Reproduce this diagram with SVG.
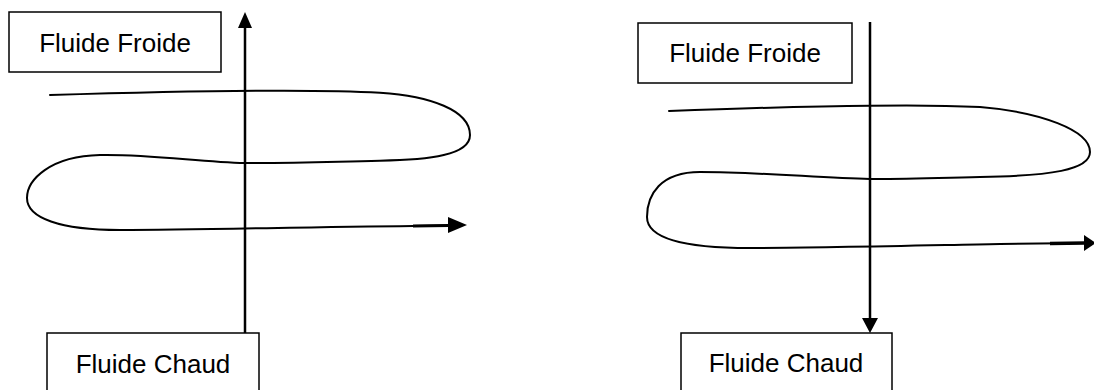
<svg xmlns="http://www.w3.org/2000/svg" width="1094" height="390" viewBox="0 0 1094 390">
  <style>
    .box { fill: #ffffff; stroke: #000000; stroke-width: 1.5; }
    .label { font-family: "Liberation Sans", Arial, sans-serif; font-size: 26px; fill: #000000; text-anchor: middle; }
    .axis { fill: none; stroke: #000000; stroke-width: 2.5; }
    .flow { fill: none; stroke: #000000; stroke-width: 2; stroke-linecap: round; }
    .head { fill: #000000; stroke: none; }
  </style>

  <!-- Left panel: co-current arrangement -->
  <g id="froide-left">
    <rect class="box" x="9" y="12" width="212" height="60"/>
    <text class="label" x="115" y="52">Fluide Froide</text>
  </g>
  <g id="chaud-left">
    <rect class="box" x="47" y="333" width="212" height="70"/>
    <text class="label" x="153" y="373">Fluide Chaud</text>
  </g>

  <!-- Right panel: counter-current arrangement -->
  <g id="froide-right">
    <rect class="box" x="638" y="23" width="214" height="60"/>
    <text class="label" x="745" y="62">Fluide Froide</text>
  </g>
  <g id="chaud-right">
    <rect class="box" x="681" y="333" width="211" height="70"/>
    <text class="label" x="786" y="372">Fluide Chaud</text>
  </g>

  <g id="connectors">
    <!-- left vertical stream, pointing up -->
    <line class="axis" x1="245" y1="333" x2="245" y2="26"/>
    <polygon class="head" points="245,12 238,28 252,28"/>

    <!-- left serpentine stream -->
    <path class="flow" d="M50,95 C150,92 300,88 380,92.7 C430,96 470,110 470,135 C470,155 430,160 380,160.7 C320,162 300,163 245,163 C200,162 150,154 100,155 C50,156 27,180 27,198 C27,218 60,230 120,230 C200,230 300,227 413,226 L449,225.5"/>
    <line x1="413" y1="226" x2="449" y2="225.5" stroke="#000" stroke-width="3"/>
    <polygon class="head" points="467,225 448,217 448,233"/>

    <!-- right vertical stream, pointing down -->
    <line class="axis" x1="870" y1="22" x2="870" y2="320"/>
    <polygon class="head" points="870,333 862,318 878,318"/>

    <!-- right serpentine stream -->
    <path class="flow" d="M669,111 C750,108 820,106 870,105.7 C920,105 960,106 980,107 C1040,112 1090,130 1090,152 C1090,170 1050,176 980,177 C930,178 900,179 870,179 C820,178 760,172 700,172 C660,172 647,195 647,217 C647,237 680,248 750,248 C820,248 900,246 1000,244 L1085,243"/>
    <line x1="1050" y1="243.5" x2="1085" y2="243" stroke="#000" stroke-width="3.5"/>
    <polygon class="head" points="1096,243 1084,235 1084,251"/>
  </g>
</svg>
